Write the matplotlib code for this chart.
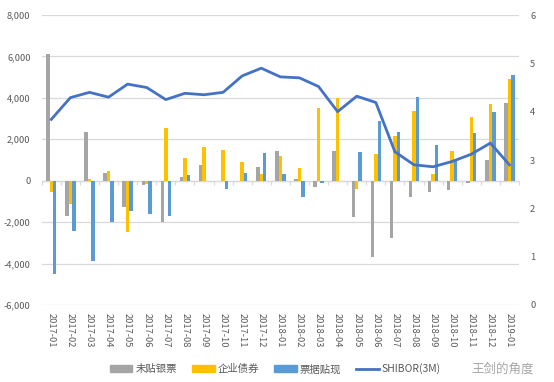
import matplotlib
matplotlib.use("Agg")
import matplotlib.pyplot as plt
import numpy as np
from matplotlib.patches import Patch
from matplotlib.lines import Line2D
from matplotlib.ticker import FuncFormatter

months = ["2017-01", "2017-02", "2017-03", "2017-04", "2017-05", "2017-06", "2017-07",
          "2017-08", "2017-09", "2017-10", "2017-11", "2017-12", "2018-01", "2018-02",
          "2018-03", "2018-04", "2018-05", "2018-06", "2018-07", "2018-08", "2018-09",
          "2018-10", "2018-11", "2018-12", "2019-01"]
weitie = [6100, -1700, 2350, 350, -1250, -200, -2000, 200, 750, 0, 0, 650, 1420, 60,
          -320, 1420, -1760, -3660, -2750, -800, -560, -470, -110, 1000, 3730]
qiye = [-540, -1120, 100, 460, -2500, -160, 2560, 1090, 1630, 1460, 880, 330, 1180, 600,
        3490, 4000, -420, 1310, 2140, 3380, 340, 1430, 3090, 3700, 4930]
piaoju = [-4500, -2430, -3870, -1980, -1470, -1600, -1680, 290, 0, -380, 350, 1360, 320,
          -780, -130, 0, 1410, 2900, 2340, 4030, 1730, 950, 2300, 3330, 5100]
shibor = [3.84, 4.29, 4.40, 4.30, 4.57, 4.50, 4.25, 4.38, 4.35, 4.40, 4.74, 4.90, 4.72,
          4.70, 4.52, 4.00, 4.32, 4.19, 3.17, 2.90, 2.86, 2.97, 3.12, 3.35, 2.90]
left_ticks = [-6000, -4000, -2000, 0, 2000, 4000, 6000, 8000]
right_ticks = [0, 1, 2, 3, 4, 5, 6]
series_names = ["未贴银票", "企业债券", "票据贴现", "SHIBOR(3M)"]

C_GRAY = "#A5A5A5"
C_GOLD = "#FFC000"
C_BLUE = "#5B9BD5"
C_LINE = "#4472C4"
C_GRID = "#D9D9D9"
C_TXT = "#595959"
FONT = ["Noto Sans CJK SC", "DejaVu Sans"]
plt.rcParams["font.family"] = FONT

fig = plt.figure(figsize=(5.54, 3.82), dpi=100)
ax = fig.add_axes([0.0753, 0.2016, 0.8615, 0.7591])
x = np.arange(len(months))
w = 0.18
ax.bar(x - w, weitie, w, color=C_GRAY, zorder=2)
ax.bar(x, qiye, w, color=C_GOLD, zorder=2)
ax.bar(x + w, piaoju, w, color=C_BLUE, zorder=2)

ax.set_xlim(-0.5, len(months) - 0.5)
ax.set_ylim(left_ticks[0], left_ticks[-1])
ax.set_yticks(left_ticks)
ax.yaxis.set_major_formatter(FuncFormatter(lambda v, p: f"{int(v):,}"))
ax.grid(axis="y", color=C_GRID, linewidth=0.9, zorder=0)
for s in ax.spines.values():
    s.set_visible(False)
ax.tick_params(axis="y", length=0, pad=8, labelsize=6.7, labelcolor=C_TXT)
ax.set_xticks(x)
ax.set_xticklabels(months, rotation=-90, fontsize=6.7, color=C_TXT)
ax.tick_params(axis="x", length=0, pad=6)

# zero axis line with category boundary ticks
ax.axhline(0, color=C_GRID, linewidth=0.9, zorder=1)
bounds = np.arange(len(months) + 1) - 0.5
ax.plot(bounds, np.zeros_like(bounds), linestyle="none", marker=3, markersize=3,
        color=C_GRID, markeredgewidth=0.9, zorder=1)

ax2 = ax.twinx()
ax2.plot(x, shibor, color=C_LINE, linewidth=2.0, zorder=3)
ax2.set_ylim(right_ticks[0], right_ticks[-1])
ax2.set_yticks(right_ticks)
for s in ax2.spines.values():
    s.set_visible(False)
ax2.tick_params(axis="y", length=0, pad=8, labelsize=6.7, labelcolor=C_TXT)

handles = [Patch(color=C_GRAY), Patch(color=C_GOLD), Patch(color=C_BLUE),
           Line2D([0], [0], color=C_LINE, linewidth=2.0)]
leg = fig.legend(handles, series_names, loc="center", bbox_to_anchor=(0.497, 0.034),
                 ncol=4, frameon=False, fontsize=7.5, handlelength=2.2,
                 handletextpad=0.3, columnspacing=1.4, handleheight=0.7)
for t in leg.get_texts():
    t.set_color(C_TXT)

fig.text(0.964, 0.034, "王剑的角度", ha="right", va="center", fontsize=9,
         color="#A6A6A6")

fig.savefig("out.png", dpi=100)
